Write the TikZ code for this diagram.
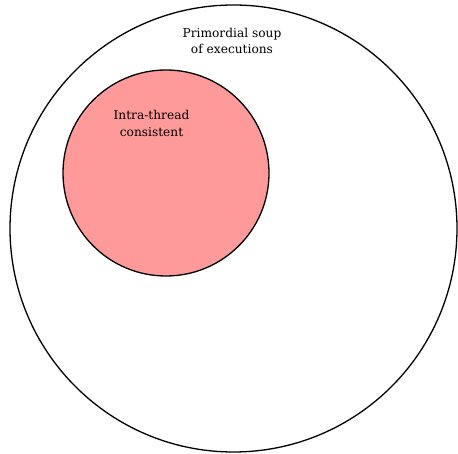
\documentclass[tikz,border=0pt]{standalone}
\usepackage{fontspec}
\setmainfont{DejaVu Serif}
\begin{document}
\begin{tikzpicture}[x=1pt,y=1pt,
  ring/.style={circle,draw=black,line width=1.3pt,inner sep=0pt},
  lbl/.style={align=center,font=\fontsize{12.2}{16.8}\selectfont,text=black}]
\useasboundingbox (0,0) rectangle (458,454);
\node[ring,minimum size=447pt,fill=white] (soup) at (233.5,225.5) {};
\node[ring,minimum size=206pt,fill={rgb,255:red,255;green,154;blue,154}] (intra) at (166,281) {};
\node[lbl] (soupl) at (232,413) {Primordial soup\\of executions};
\node[lbl] (intral) at (151.5,330.5) {Intra-thread\\consistent};
\end{tikzpicture}
\end{document}
